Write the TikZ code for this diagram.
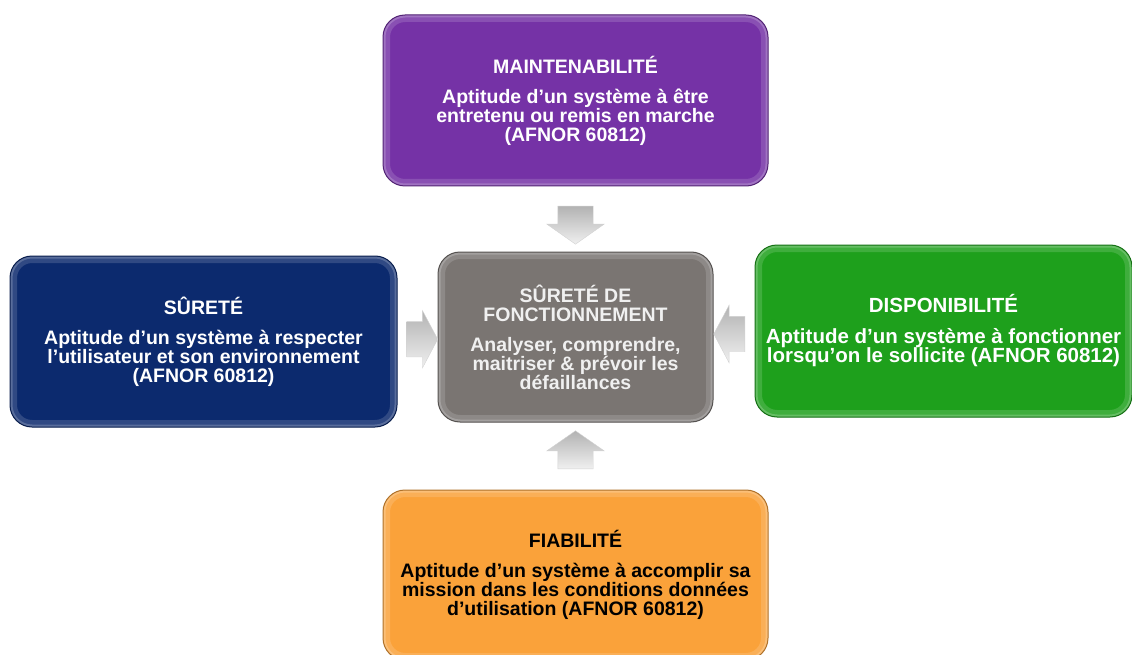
\documentclass[tikz,border=0pt]{standalone}
\usepackage{fontspec}
\setmainfont{Liberation Sans}
\usetikzlibrary{shapes.arrows, calc}

\definecolor{maintcol}{RGB}{117,50,166}
\definecolor{surcol}{RGB}{12,42,110}
\definecolor{sdfcol}{RGB}{122,117,114}
\definecolor{dispocol}{RGB}{30,160,28}
\definecolor{fiabcol}{RGB}{250,162,58}
\definecolor{sdftext}{RGB}{240,240,240}

\begin{document}
\begin{tikzpicture}[x=1pt, y=-1pt,
	box/.style={rounded corners=22pt, inner sep=0pt, align=center, text=white, line width=1pt,
		font=\bfseries\fontsize{19.5}{19}\selectfont,
		path picture={
			\draw[white, opacity=0.15, line width=14pt, rounded corners=22pt] (path picture bounding box.south west) rectangle (path picture bounding box.north east);
			\draw[white, opacity=0.2, line width=5pt, rounded corners=22pt] (path picture bounding box.south west) rectangle (path picture bounding box.north east);
		}},
	flow/.style={single arrow, inner xsep=0pt, inner ysep=17.5pt, minimum height=38pt, minimum width=56pt,
		single arrow head extend=11pt, single arrow tip angle=110,
		draw=gray!35, top color=gray!60, bottom color=gray!12}
]
			\useasboundingbox (0, 0) rectangle (1132, 655);

			\node[box, fill=maintcol, draw=maintcol!70!black, minimum width=385pt, minimum height=171pt] (maint) at (575.5, 100.5)
				{MAINTENABILITÉ\\[11pt]Aptitude d’un système à être\\entretenu ou remis en marche\\(AFNOR 60812)};
			\node[box, fill=surcol, draw=surcol!70!black, minimum width=387pt, minimum height=171pt] (sur) at (203.5, 341.5)
				{SÛRETÉ\\[11pt]Aptitude d’un système à respecter\\l’utilisateur et son environnement\\(AFNOR 60812)};
			\node[box, fill=sdfcol, draw=sdfcol!70!black, text=sdftext, minimum width=275pt, minimum height=170pt] (sdf) at (575.5, 337)
				{SÛRETÉ DE\\FONCTIONNEMENT\\[11pt]Analyser, comprendre,\\maitriser \& prévoir les\\défaillances};
			\node[box, fill=dispocol, draw=dispocol!70!black, minimum width=377pt, minimum height=172pt,
				font=\bfseries\fontsize{20.5}{19.5}\selectfont] (dispo) at (943.5, 331)
				{DISPONIBILITÉ\\[11pt]Aptitude d’un système à fonctionner\\lorsqu’on le sollicite  (AFNOR 60812)};
			\node[box, fill=fiabcol, draw=fiabcol!70!black, text=black, minimum width=385pt, minimum height=170pt] (fiab) at (575.5, 575)
				{FIABILITÉ\\[11pt]Aptitude d’un système à accomplir  sa\\mission  dans  les  conditions  données\\d’utilisation  (AFNOR 60812)};

			\node[flow, rotate=-90] (amaint) at ($(maint.south)!0.5!(sdf.north)$) {};
			\node[flow, minimum height=31pt, single arrow tip angle=124] (asur) at ($(sur.east)!0.5!(sdf.west)$) {};
			\node[flow, minimum height=31pt, single arrow tip angle=124, rotate=180] (adispo) at ($(dispo.west)!0.5!(sdf.east)$) {};
			\node[flow, rotate=90] (afiab) at ($(fiab.north)!0.5!(sdf.south)$) {};
		\end{tikzpicture}
\end{document}
